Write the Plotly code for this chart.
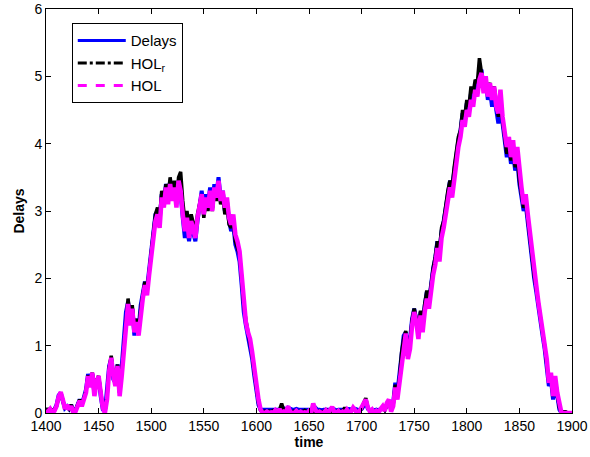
import plotly.graph_objects as go

time = list(range(1400, 1901, 2))

delays = [
    0.05, 0.04, 0.06, 0.03, 0.05, 0.12, 0.26, 0.30, 0.18, 0.07,
    0.10, 0.06, 0.12, 0.02, 0.04, 0.14, 0.20, 0.12, 0.25, 0.35,
    0.58, 0.40, 0.58, 0.28, 0.48, 0.52, 0.25, 0.05, 0.02, 0.30,
    0.70, 0.80, 0.50, 0.45, 0.72, 0.30, 0.65, 1.05, 1.50, 1.65,
    1.40, 1.55, 1.15, 1.40, 1.25, 1.60, 1.80, 1.95, 1.85, 2.15,
    2.45, 2.70, 2.95, 3.00, 2.85, 3.25, 3.10, 3.40, 3.15, 3.45,
    3.20, 3.40, 3.15, 3.45, 3.25, 2.90, 2.60, 2.75, 2.55, 2.80,
    2.65, 2.55, 2.85, 3.10, 3.30, 3.00, 3.25, 3.10, 3.35, 3.05,
    3.40, 3.25, 3.50, 3.20, 3.30, 3.00, 3.15, 2.85, 2.70, 2.80,
    2.50, 2.40, 2.25, 1.90, 1.50, 1.30, 1.15, 1.00, 0.80, 0.55,
    0.35, 0.12, 0.05, 0.05, 0.05, 0.06, 0.05, 0.05, 0.06, 0.05,
    0.05, 0.06, 0.05, 0.07, 0.05, 0.08, 0.06, 0.05, 0.05, 0.06,
    0.05, 0.05, 0.06, 0.05, 0.05, 0.05, 0.06, 0.05, 0.08, 0.05,
    0.05, 0.04, 0.05, 0.05, 0.06, 0.05, 0.07, 0.05, 0.04, 0.05,
    0.05, 0.05, 0.04, 0.05, 0.06, 0.05, 0.05, 0.06, 0.05, 0.04,
    0.06, 0.10, 0.15, 0.06, 0.04, 0.05, 0.04, 0.05, 0.04, 0.06,
    0.08, 0.05, 0.12, 0.15, 0.06, 0.15, 0.45, 0.30, 0.60, 0.95,
    1.15, 1.20, 0.90, 1.10, 1.40, 1.55, 1.40, 1.20, 1.50, 1.30,
    1.60, 1.80, 1.65, 1.95, 2.15, 2.30, 2.55, 2.40, 2.70, 2.85,
    3.05, 3.25, 3.45, 3.35, 3.60, 3.85, 4.05, 4.20, 4.45, 4.35,
    4.60, 4.50, 4.75, 4.65, 4.85, 4.80, 5.05, 5.10, 4.80, 4.95,
    4.65, 4.80, 4.55, 4.70, 4.45, 4.30, 4.55, 4.25, 4.05, 3.80,
    3.95, 3.70, 3.85, 3.60, 3.75, 3.40, 3.20, 3.00, 3.10, 2.80,
    2.50, 2.25, 2.00, 1.80, 1.55, 1.35, 1.15, 0.95, 0.70, 0.40,
    0.50, 0.20, 0.45, 0.25, 0.05, 0.00, 0.00, 0.00, 0.00, 0.00,
    0.00,
]

hol_r = [
    0.06, 0.05, 0.06, 0.04, 0.05, 0.10, 0.22, 0.28, 0.18, 0.08,
    0.10, 0.06, 0.12, 0.03, 0.04, 0.12, 0.20, 0.12, 0.24, 0.32,
    0.56, 0.40, 0.60, 0.30, 0.48, 0.55, 0.32, 0.08, 0.02, 0.24,
    0.66, 0.85, 0.58, 0.42, 0.72, 0.32, 0.60, 1.00, 1.45, 1.70,
    1.40, 1.60, 1.25, 1.40, 1.20, 1.55, 1.75, 1.95, 1.80, 2.10,
    2.40, 2.65, 2.95, 3.05, 2.90, 3.30, 3.10, 3.40, 3.20, 3.50,
    3.25, 3.45, 3.15, 3.50, 3.58, 3.15, 2.85, 3.00, 2.75, 2.95,
    2.80, 2.70, 2.95, 3.10, 3.25, 2.90, 3.15, 3.00, 3.25, 3.00,
    3.30, 3.15, 3.35, 3.10, 3.25, 2.95, 3.10, 2.80, 2.75, 2.85,
    2.55, 2.45, 2.35, 2.00, 1.60, 1.38, 1.22, 1.05, 0.85, 0.60,
    0.40, 0.15, 0.04, 0.02, 0.03, 0.02, 0.03, 0.02, 0.04, 0.03,
    0.02, 0.05, 0.14, 0.04, 0.02, 0.03, 0.02, 0.02, 0.03, 0.02,
    0.02, 0.03, 0.02, 0.04, 0.02, 0.03, 0.05, 0.02, 0.04, 0.02,
    0.03, 0.02, 0.02, 0.05, 0.03, 0.02, 0.04, 0.03, 0.02, 0.02,
    0.03, 0.02, 0.08, 0.03, 0.02, 0.03, 0.06, 0.03, 0.02, 0.04,
    0.06, 0.15, 0.22, 0.08, 0.03, 0.04, 0.02, 0.03, 0.02, 0.05,
    0.08, 0.04, 0.12, 0.18, 0.05, 0.12, 0.42, 0.25, 0.52, 0.90,
    1.10, 1.22, 0.88, 1.05, 1.38, 1.55, 1.40, 1.20, 1.52, 1.30,
    1.62, 1.82, 1.65, 1.95, 2.15, 2.32, 2.55, 2.40, 2.75, 2.85,
    3.10, 3.30, 3.45, 3.35, 3.65, 3.90, 4.10, 4.20, 4.50, 4.40,
    4.65, 4.55, 4.85, 4.75, 4.95, 4.90, 5.27, 5.05, 4.85, 4.90,
    4.85, 4.90, 4.70, 4.85, 4.60, 4.40, 4.60, 4.30, 4.10, 3.85,
    4.00, 3.75, 3.90, 3.65, 3.80, 3.45, 3.25, 3.05, 3.15, 2.85,
    2.55, 2.30, 2.05, 1.85, 1.60, 1.40, 1.20, 1.00, 0.75, 0.45,
    0.55, 0.25, 0.50, 0.28, 0.08, 0.02, 0.02, 0.02, 0.00, 0.00,
    0.00,
]

hol = [
    0.04, 0.02, 0.06, 0.01, 0.03, 0.10, 0.24, 0.31, 0.20, 0.06,
    0.12, 0.05, 0.10, 0.00, 0.02, 0.12, 0.18, 0.10, 0.22, 0.30,
    0.55, 0.38, 0.60, 0.25, 0.45, 0.55, 0.30, 0.08, 0.00, 0.20,
    0.62, 0.82, 0.55, 0.40, 0.70, 0.25, 0.55, 0.95, 1.40, 1.62,
    1.30, 1.55, 1.20, 1.35, 1.15, 1.50, 1.70, 1.90, 1.75, 2.05,
    2.30, 2.55, 2.85, 2.95, 2.75, 3.20, 3.05, 3.35, 3.10, 3.40,
    3.15, 3.35, 3.05, 3.45, 3.30, 2.95, 2.70, 2.90, 2.60, 2.85,
    2.75, 2.60, 2.90, 3.05, 3.25, 2.95, 3.20, 3.05, 3.30, 3.00,
    3.35, 3.20, 3.45, 3.15, 3.30, 3.05, 3.20, 2.90, 2.80, 2.95,
    2.65, 2.55, 2.40, 2.05, 1.60, 1.35, 1.20, 1.10, 0.90, 0.65,
    0.45, 0.20, 0.05, 0.00, 0.00, 0.02, 0.00, 0.01, 0.00, 0.04,
    0.00, 0.06, 0.00, 0.02, 0.00, 0.10, 0.02, 0.00, 0.00, 0.03,
    0.00, 0.02, 0.00, 0.01, 0.00, 0.03, 0.00, 0.14, 0.05, 0.00,
    0.02, 0.00, 0.00, 0.04, 0.00, 0.06, 0.09, 0.02, 0.00, 0.03,
    0.00, 0.02, 0.00, 0.05, 0.00, 0.02, 0.08, 0.04, 0.00, 0.03,
    0.08, 0.12, 0.20, 0.08, 0.02, 0.05, 0.00, 0.03, 0.00, 0.06,
    0.10, 0.03, 0.15, 0.20, 0.02, 0.10, 0.38, 0.20, 0.45, 0.80,
    1.05, 1.18, 0.80, 0.95, 1.30, 1.50, 1.35, 1.10, 1.45, 1.20,
    1.50, 1.70, 1.55, 1.85, 2.05, 2.20, 2.45, 2.25, 2.60, 2.75,
    2.95, 3.15, 3.35, 3.20, 3.50, 3.70, 3.95, 4.10, 4.35, 4.25,
    4.50, 4.40, 4.65, 4.55, 4.80, 4.70, 4.95, 5.05, 4.75, 5.00,
    4.70, 4.90, 4.65, 4.85, 4.55, 4.45, 4.80, 4.40, 4.20, 3.95,
    4.10, 3.80, 4.05, 3.70, 3.95, 3.55, 3.35, 3.10, 3.25, 2.95,
    2.65, 2.35, 2.10, 1.90, 1.65, 1.45, 1.25, 1.05, 0.80, 0.45,
    0.60, 0.25, 0.55, 0.30, 0.10, 0.00, 0.00, 0.00, 0.00, 0.00,
    0.00,
]

x_ticks = [1400, 1450, 1500, 1550, 1600, 1650, 1700, 1750, 1800, 1850, 1900]
y_ticks = [0, 1, 2, 3, 4, 5, 6]

assert len(delays) == len(time) and len(hol_r) == len(time) and len(hol) == len(time)

FONT = "Liberation Sans, Arial, sans-serif"

fig = go.Figure()
# data traces (solid; the dense noisy data hides the dash pattern in the original)
fig.add_trace(go.Scatter(x=time, y=delays, mode="lines", showlegend=False,
                         line=dict(color="#0000ff", width=4)))
fig.add_trace(go.Scatter(x=time, y=hol_r, mode="lines", showlegend=False,
                         line=dict(color="#000000", width=3.5)))
fig.add_trace(go.Scatter(x=time, y=hol, mode="lines", showlegend=False,
                         line=dict(color="#ff00ff", width=4.5)))
# legend entries
fig.add_trace(go.Scatter(x=[None], y=[None], mode="lines", name="Delays",
                         line=dict(color="#0000ff", width=3)))
fig.add_trace(go.Scatter(x=[None], y=[None], mode="lines", name="HOL<sub>r</sub>",
                         line=dict(color="#000000", width=3, dash="dashdot")))
fig.add_trace(go.Scatter(x=[None], y=[None], mode="lines", name="HOL",
                         line=dict(color="#ff00ff", width=3, dash="dash")))

axis_common = dict(
    showline=True, linecolor="black", linewidth=1, mirror="ticks",
    ticks="inside", ticklen=5, tickcolor="black", showgrid=False, zeroline=False,
    automargin=False,
    tickfont=dict(family=FONT, size=14, color="black"),
)

fig.update_layout(
    width=590, height=457,
    margin=dict(l=46, r=18, t=9, b=44),
    paper_bgcolor="white", plot_bgcolor="white",
    font=dict(family=FONT, size=14, color="black"),
    xaxis=dict(range=[1400, 1900], tickvals=x_ticks,
               title=dict(text="<b>time</b>", standoff=2,
                          font=dict(family=FONT, size=14)),
               **axis_common),
    yaxis=dict(range=[0, 6], tickvals=y_ticks,
               title=dict(text="<b>Delays</b>", standoff=6,
                          font=dict(family=FONT, size=14)),
               **axis_common),
    legend=dict(x=0.049, y=0.965, xanchor="left", yanchor="top",
                bgcolor="white", bordercolor="black", borderwidth=1,
                font=dict(family=FONT, size=15), tracegroupgap=2,
                itemwidth=48),
)

fig.write_html("out.html", config={"displayModeBar": False},
               post_script="document.body.style.margin='0';document.body.style.padding='0';")
